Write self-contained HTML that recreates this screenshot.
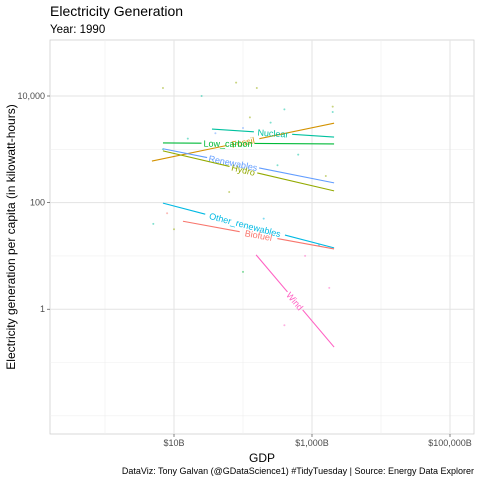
<!DOCTYPE html>
<html><head><meta charset="utf-8"><style>
body{margin:0;background:#fff;}
svg{display:block;font-family:"Liberation Sans",Arial,sans-serif;}
</style></head><body>
<svg id="chart" width="480" height="480" viewBox="0 0 480 480">
<text x="50" y="16" font-size="14" fill="#000">Electricity Generation</text>
<text x="50" y="33" font-size="11.5" fill="#000">Year: 1990</text>
<rect x="50" y="40" width="424" height="394" fill="#fff" stroke="#d0d0d0" stroke-width="0.8"/>
<g id="grid"></g>
<g id="points"></g>
<g id="lines"></g>
<g id="axes"></g>
<text x="262" y="462" font-size="12" text-anchor="middle" fill="#000">GDP</text>
<text transform="translate(15,237) rotate(-90)" font-size="12" text-anchor="middle" fill="#000">Electricity generation per capita (in kilowatt-hours)</text>
<text x="474" y="474" font-size="9" text-anchor="end" fill="#000">DataViz: Tony Galvan (@GDataScience1) #TidyTuesday  |  Source: Energy Data Explorer</text>
</svg>
<script>
const NS="http://www.w3.org/2000/svg";
const xTicks=[10,12,14];
const xTickLabels=["$10B","$1,000B","$100,000B"];
const xMinor=[9,11,13];
const yTicks=[4,2,0];
const yTickLabels=["10,000","100","1"];
const yMinor=[3,1,-1,-2];
const seriesNames=["Fossil","Nuclear","Low_carbon","Renewables","Hydro","Other_renewables","Biofuel","Wind"];
const seriesColors=["#D39200","#00C19F","#00BA38","#619CFF","#93AA00","#00B9E3","#F8766D","#FF61C3"];
const startGdp=[9.68,10.55,9.84,9.84,9.84,9.84,10.13,11.19];
const endGdp=[12.32,12.32,12.32,12.32,12.32,12.32,12.32,12.32];
const startVal=[2.78,3.38,3.12,3.01,2.97,1.99,1.65,1.02];
const endVal=[3.49,3.23,3.10,2.37,2.22,1.15,1.13,-0.71];
const labelPos=[0.5,0.5,0.38,0.41,0.47,0.48,0.5,0.5];
const pointGdp=[9.84,9.84,10.9,11.2,10.4,11.6,11.1,12.3,12.3,10.6,11.0,11.4,10.2,9.9,12.2,11.8,10.8,11.5,12.1,11.3,10.0,11.9,9.7,12.25,11.0,11.6];
const pointVal=[4.15,3.0,4.25,4.15,4.0,3.75,3.6,3.8,3.7,3.3,3.4,3.5,3.2,1.8,2.5,2.9,2.2,2.7,1.2,1.7,1.5,1.0,1.6,0.4,0.7,-0.3];
const pointSeries=[4,1,4,4,1,1,4,4,1,3,3,1,1,6,4,1,4,1,5,5,4,7,1,7,2,7];
function xs(v){return 174+(v-10)*69;}
function ys(v){return 96-(v-4)*53.3;}
function el(tag,attrs,parent){const e=document.createElementNS(NS,tag);for(const k in attrs)e.setAttribute(k,attrs[k]);parent.appendChild(e);return e;}
const grid=document.getElementById('grid'),axes=document.getElementById('axes'),pts=document.getElementById('points'),lines=document.getElementById('lines');
xMinor.forEach(v=>{const l=el('line',{x1:xs(v),x2:xs(v),y1:40,y2:434,stroke:'#efefef','stroke-width':0.6},grid);

});
yMinor.forEach(v=>{const l=el('line',{x1:50,x2:474,y1:ys(v),y2:ys(v),stroke:'#efefef','stroke-width':0.6},grid);

});
xTicks.forEach((v,i)=>{const l=el('line',{x1:xs(v),x2:xs(v),y1:40,y2:434,stroke:'#e3e3e3','stroke-width':1},grid);


const tk=el('line',{x1:xs(v),x2:xs(v),y1:434,y2:437,stroke:'#333','stroke-width':0.6},axes);


const t=el('text',{x:xs(v),y:446,'font-size':9,'text-anchor':'middle',fill:'#4d4d4d'},axes);t.textContent=xTickLabels[i];

});
yTicks.forEach((v,i)=>{const l=el('line',{x1:50,x2:474,y1:ys(v),y2:ys(v),stroke:'#e3e3e3','stroke-width':1},grid);


const tk=el('line',{x1:47,x2:50,y1:ys(v),y2:ys(v),stroke:'#333','stroke-width':0.6},axes);


const t=el('text',{x:45,y:ys(v)+3,'font-size':9,'text-anchor':'end',fill:'#4d4d4d'},axes);t.textContent=yTickLabels[i];

});
pointGdp.forEach((g,i)=>{const c=el('circle',{cx:xs(g),cy:ys(pointVal[i]),r:1,fill:seriesColors[pointSeries[i]],opacity:0.5},pts);

});
seriesNames.forEach((n,i)=>{
const x1=xs(startGdp[i]),y1=ys(startVal[i]),x2=xs(endGdp[i]),y2=ys(endVal[i]);
const len=Math.hypot(x2-x1,y2-y1),ux=(x2-x1)/len,uy=(y2-y1)/len;
const p=labelPos[i],lx=x1+(x2-x1)*p,ly=y1+(y2-y1)*p;
const w=n.length*4.9+4;
const a=el('line',{x1:x1,y1:y1,x2:lx-ux*w/2,y2:ly-uy*w/2,stroke:seriesColors[i],'stroke-width':1.1},lines);


const b=el('line',{x1:lx+ux*w/2,y1:ly+uy*w/2,x2:x2,y2:y2,stroke:seriesColors[i],'stroke-width':1.1},lines);


const ang=Math.atan2(y2-y1,x2-x1)*180/Math.PI;
const g=el('g',{transform:`translate(${lx},${ly}) rotate(${ang})`},lines);
const t=el('text',{x:0,y:3.5,'font-size':9,'text-anchor':'middle',fill:seriesColors[i]},g);t.textContent=n;


});
</script>
</body></html>
